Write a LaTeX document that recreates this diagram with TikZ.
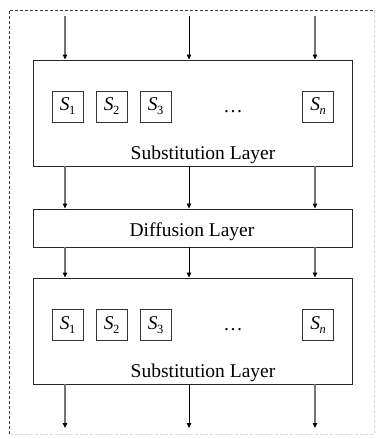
\documentclass[tikz,border=0pt]{standalone}
\usepackage{fontspec}
\setmainfont{Liberation Serif}
\usetikzlibrary{arrows.meta}
% an S-box label: italic S with a lowered index
\newcommand{\sbx}[1]{\textit{S}\kern-0.5pt\raisebox{-4pt}{\fontsize{12.5}{13}\selectfont #1}}
\begin{document}
\begin{tikzpicture}[x=1pt,y=-1pt,
  layer/.style={draw=black!85,line width=0.9pt,minimum width=319pt,inner sep=0pt},
  sbox/.style={draw=black!80,line width=0.8pt,minimum width=31pt,minimum height=31pt,inner sep=0pt,font=\fontsize{19.5}{20}\selectfont},
  lbl/.style={font=\fontsize{19.5}{20}\selectfont,inner sep=0pt},
  flow/.style={line width=0.8pt,draw=black,-{Triangle[length=5pt,width=4.5pt,color=black]}},
  side/.style={flow,line width=1.2pt,draw=black!55},
  frame/.style={dashed,dash pattern=on 3pt off 2pt,line width=0.6pt}]
\useasboundingbox (0,0) rectangle (376,439);
% outer dashed frame
\draw[frame,draw=black!75] (9,434) -- (9,10) -- (374,10);
\draw[frame,draw=black!15] (374,10) -- (374,434) -- (9,434);
% layers
\node[layer,minimum height=106pt] (sub1) at (192.5,113) {};
\node[layer,minimum height=38pt] (diff) at (192.5,228) {};
\node[layer,minimum height=106pt] (sub2) at (192.5,331) {};
\node[lbl,anchor=base] (t1) at (203,159) {Substitution Layer};
\node[lbl] (t2) at (192,232) {Diffusion Layer};
\node[lbl,anchor=base] (t3) at (203,377) {Substitution Layer};
% S-boxes of the first substitution layer
\node[sbox] (a1) at (67.5,106.5) {\sbx{1}};
\node[sbox] (a2) at (111.5,106.5) {\sbx{2}};
\node[sbox] (a3) at (155.5,106.5) {\sbx{3}};
\node[lbl,anchor=base] (ad) at (233,112) {\dots};
\node[sbox] (an) at (318,106.5) {\sbx{\textit{n}}};
% S-boxes of the second substitution layer
\node[sbox] (b1) at (67.5,325) {\sbx{1}};
\node[sbox] (b2) at (111.5,325) {\sbx{2}};
\node[sbox] (b3) at (155.5,325) {\sbx{3}};
\node[lbl,anchor=base] (bd) at (233,330.5) {\dots};
\node[sbox] (bn) at (318,325) {\sbx{\textit{n}}};
% input and output ends
\coordinate (i1) at (65,16);  \coordinate (i2) at (189,16);  \coordinate (i3) at (315,16);
\coordinate (o1) at (65,428); \coordinate (o2) at (189,428); \coordinate (o3) at (315,428);
% data flow
\draw[side] (i1) -- (i1 |- sub1.north);
\draw[flow] (i2) -- (i2 |- sub1.north);
\draw[side] (i3) -- (i3 |- sub1.north);
\draw[side] (sub1.south -| i1) -- (diff.north -| i1);
\draw[flow] (sub1.south -| i2) -- (diff.north -| i2);
\draw[side] (sub1.south -| i3) -- (diff.north -| i3);
\draw[side] (diff.south -| i1) -- (sub2.north -| i1);
\draw[flow] (diff.south -| i2) -- (sub2.north -| i2);
\draw[side] (diff.south -| i3) -- (sub2.north -| i3);
\draw[side] (sub2.south -| o1) -- (o1);
\draw[flow] (sub2.south -| o2) -- (o2);
\draw[side] (sub2.south -| o3) -- (o3);
\end{tikzpicture}
\end{document}
